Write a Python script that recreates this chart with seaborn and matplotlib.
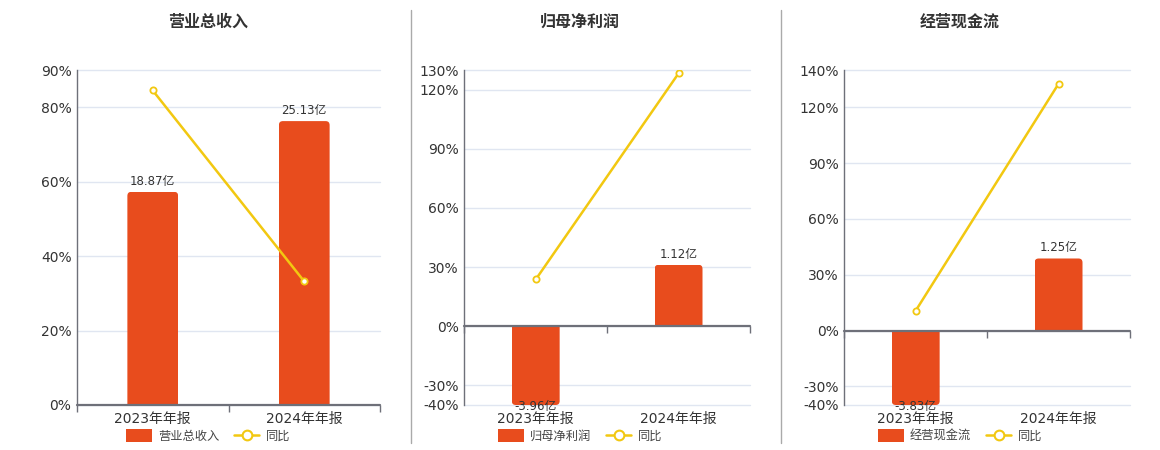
import matplotlib
matplotlib.use("Agg")
import matplotlib.pyplot as plt
from matplotlib.lines import Line2D
from matplotlib.patches import FancyBboxPatch, Patch, Rectangle
import numpy as np
import pandas as pd
import seaborn as sns

# dados
PERIODS = ["2023年年报", "2024年年报"]

TITLES = ["营业总收入", "归母净利润", "经营现金流"]

REVENUE = [18.87, 25.13]
REVENUE_YOY = [84.5, 33.2]

NET_PROFIT = [-3.96, 1.12]
NET_PROFIT_YOY = [23.7, 128.3]

CASH_FLOW = [-3.83, 1.25]
CASH_FLOW_YOY = [10.7, 132.6]

YTICKS = [
    [0, 20, 40, 60, 80, 90],
    [-40, -30, 0, 30, 60, 90, 120, 130],
    [-40, -30, 0, 30, 60, 90, 120, 140],
]

# estilo / layout (pixels numa figura de 1160x450)
BAR_COLOR = "#E84C1D"
LINE_COLOR = "#F2C811"
AXIS_COLOR = "#6E7079"
GRID_COLOR = "#E0E6F1"
TEXT_COLOR = "#333333"
W, H = 1160, 450
AX_X = [(77, 380), (464.3, 750), (844.3, 1130)]
AX_TOP, AX_BOTTOM = 70, 405
PANEL_CX = [208, 580, 960]
SEPARATORS = [410.7, 781]

sns.set_style("white")
plt.rcParams["font.family"] = ["DejaVu Sans", "Noto Sans CJK SC"]


def round_bars(ax, bars, lo, radius_px=4):
    """Troca os retângulos por barras com a ponta arredondada."""
    fig = ax.figure
    bb = ax.get_position()
    w_px = bb.width * fig.get_figwidth() * fig.dpi
    h_px = bb.height * fig.get_figheight() * fig.dpi
    x0, x1 = ax.get_xlim()
    y0, y1 = ax.get_ylim()
    rx = radius_px * (x1 - x0) / w_px
    ry = radius_px * (y1 - y0) / h_px
    for p in list(bars):
        x, w = p.get_x(), p.get_width()
        end = max(p.get_y() + p.get_height(), lo) if p.get_height() < 0 else p.get_height()
        if end >= 0:
            ey, eh = -2 * ry, end + 2 * ry
        else:
            ey, eh = end, -end + 2 * ry
        fb = FancyBboxPatch(
            (x, ey), w, eh,
            boxstyle=f"round,pad=0,rounding_size={rx}",
            mutation_aspect=ry / rx,
            fc=BAR_COLOR, ec="none", zorder=2,
        )
        ax.add_patch(fb)
        fb.set_clip_path(Rectangle((x, min(0, end)), w, abs(end), transform=ax.transData))
        p.remove()


def draw_panel(fig, i, title, values, yoy, ticks):
    left, right = AX_X[i]
    ax = fig.add_axes([left / W, 1 - AX_BOTTOM / H, (right - left) / W, (AX_BOTTOM - AX_TOP) / H])
    ax2 = ax.twinx()
    ax3 = ax.twinx()

    df = pd.DataFrame({"period": PERIODS, "value": values, "yoy": yoy})

    # barras (eixo escondido, zero alinhado com 0%)
    sns.barplot(data=df, x="period", y="value", ax=ax2, color=BAR_COLOR,
                saturation=1, width=0.335, errorbar=None)
    lo_pct, hi_pct = ticks[0], ticks[-1]
    top = 1.18 * max(abs(v) for v in values)
    bottom = top * lo_pct / hi_pct
    ax2.set_ylim(bottom, top)
    ax2.set_xlim(-0.5, len(PERIODS) - 0.5)
    round_bars(ax2, ax2.containers[0], bottom)

    for k, v in enumerate(values):
        if v >= 0:
            ax2.annotate(f"{v:.2f}亿", (k, v), xytext=(0, 3), textcoords="offset points",
                         ha="center", va="bottom", fontsize=8.5, color=TEXT_COLOR)
        else:
            ax2.annotate(f"{v:.2f}亿", (k, max(v, bottom)), xytext=(0, -1), textcoords="offset points",
                         ha="center", va="center", fontsize=8.5, color=TEXT_COLOR,
                         annotation_clip=False)

    ax2.axhline(0, color=AXIS_COLOR, lw=1.6, zorder=5, clip_on=False)
    bounds = np.arange(len(PERIODS) + 1) - 0.5
    ax2.plot(bounds, np.zeros_like(bounds), ls="none", marker=3, ms=5, mew=1,
             color=AXIS_COLOR, clip_on=False, zorder=5)

    # linha do crescimento anual
    sns.lineplot(data=df, x="period", y="yoy", ax=ax3, color=LINE_COLOR, lw=1.8,
                 marker="o", ms=4.5, mfc="white", mec=LINE_COLOR, mew=1.3)
    ax3.set_ylim(lo_pct, hi_pct)

    for a in (ax2, ax3):
        a.set_yticks([])
        a.set_ylabel("")
        a.set_xlabel("")
        for s in a.spines.values():
            s.set_visible(False)

    # eixo base com grade e rótulos
    ax.set_ylim(lo_pct, hi_pct)
    ax.set_yticks(ticks)
    ax.set_yticklabels([f"{t}%" for t in ticks])
    ax.set_xticks(range(len(PERIODS)))
    ax.set_xticklabels(PERIODS)
    ax.grid(axis="y", color=GRID_COLOR, lw=1)
    for gl in ax.get_ygridlines():
        gl.set_clip_on(False)
    ax.set_axisbelow(True)
    for s in ["top", "right", "bottom"]:
        ax.spines[s].set_visible(False)
    ax.spines["left"].set_color(AXIS_COLOR)
    ax.spines["left"].set_linewidth(1)
    ax.tick_params(axis="y", length=0, pad=4, labelsize=10, labelcolor=TEXT_COLOR)
    ax.tick_params(axis="x", length=0, pad=5, labelsize=10, labelcolor=TEXT_COLOR)

    cx = PANEL_CX[i] / W
    fig.text(cx, 1 - 22 / H, title, ha="center", va="center", fontsize=11.5,
             fontweight="bold", color=TEXT_COLOR)

    handles = [
        Patch(fc=BAR_COLOR, ec="none", label=title),
        Line2D([], [], color=LINE_COLOR, lw=1.8, marker="o", ms=7, mfc="white",
               mec=LINE_COLOR, mew=1.5, label="同比"),
    ]
    fig.legend(handles=handles, loc="center", bbox_to_anchor=(cx, 1 - 436 / H), ncol=2,
               frameon=False, fontsize=8.8, handlelength=2.1, handleheight=1.3,
               columnspacing=1.2, handletextpad=0.5, labelcolor="#444444")


fig = plt.figure(figsize=(W / 100, H / 100), dpi=100)

series = [(REVENUE, REVENUE_YOY), (NET_PROFIT, NET_PROFIT_YOY), (CASH_FLOW, CASH_FLOW_YOY)]
for i, (title, (vals, yoy), ticks) in enumerate(zip(TITLES, series, YTICKS)):
    draw_panel(fig, i, title, vals, yoy, ticks)

for x in SEPARATORS:
    fig.add_artist(Line2D([x / W, x / W], [1 - 10 / H, 1 - 443 / H], color="#AAAAAA",
                          lw=1, transform=fig.transFigure))

fig.savefig("out.png", dpi=100)
plt.close()
